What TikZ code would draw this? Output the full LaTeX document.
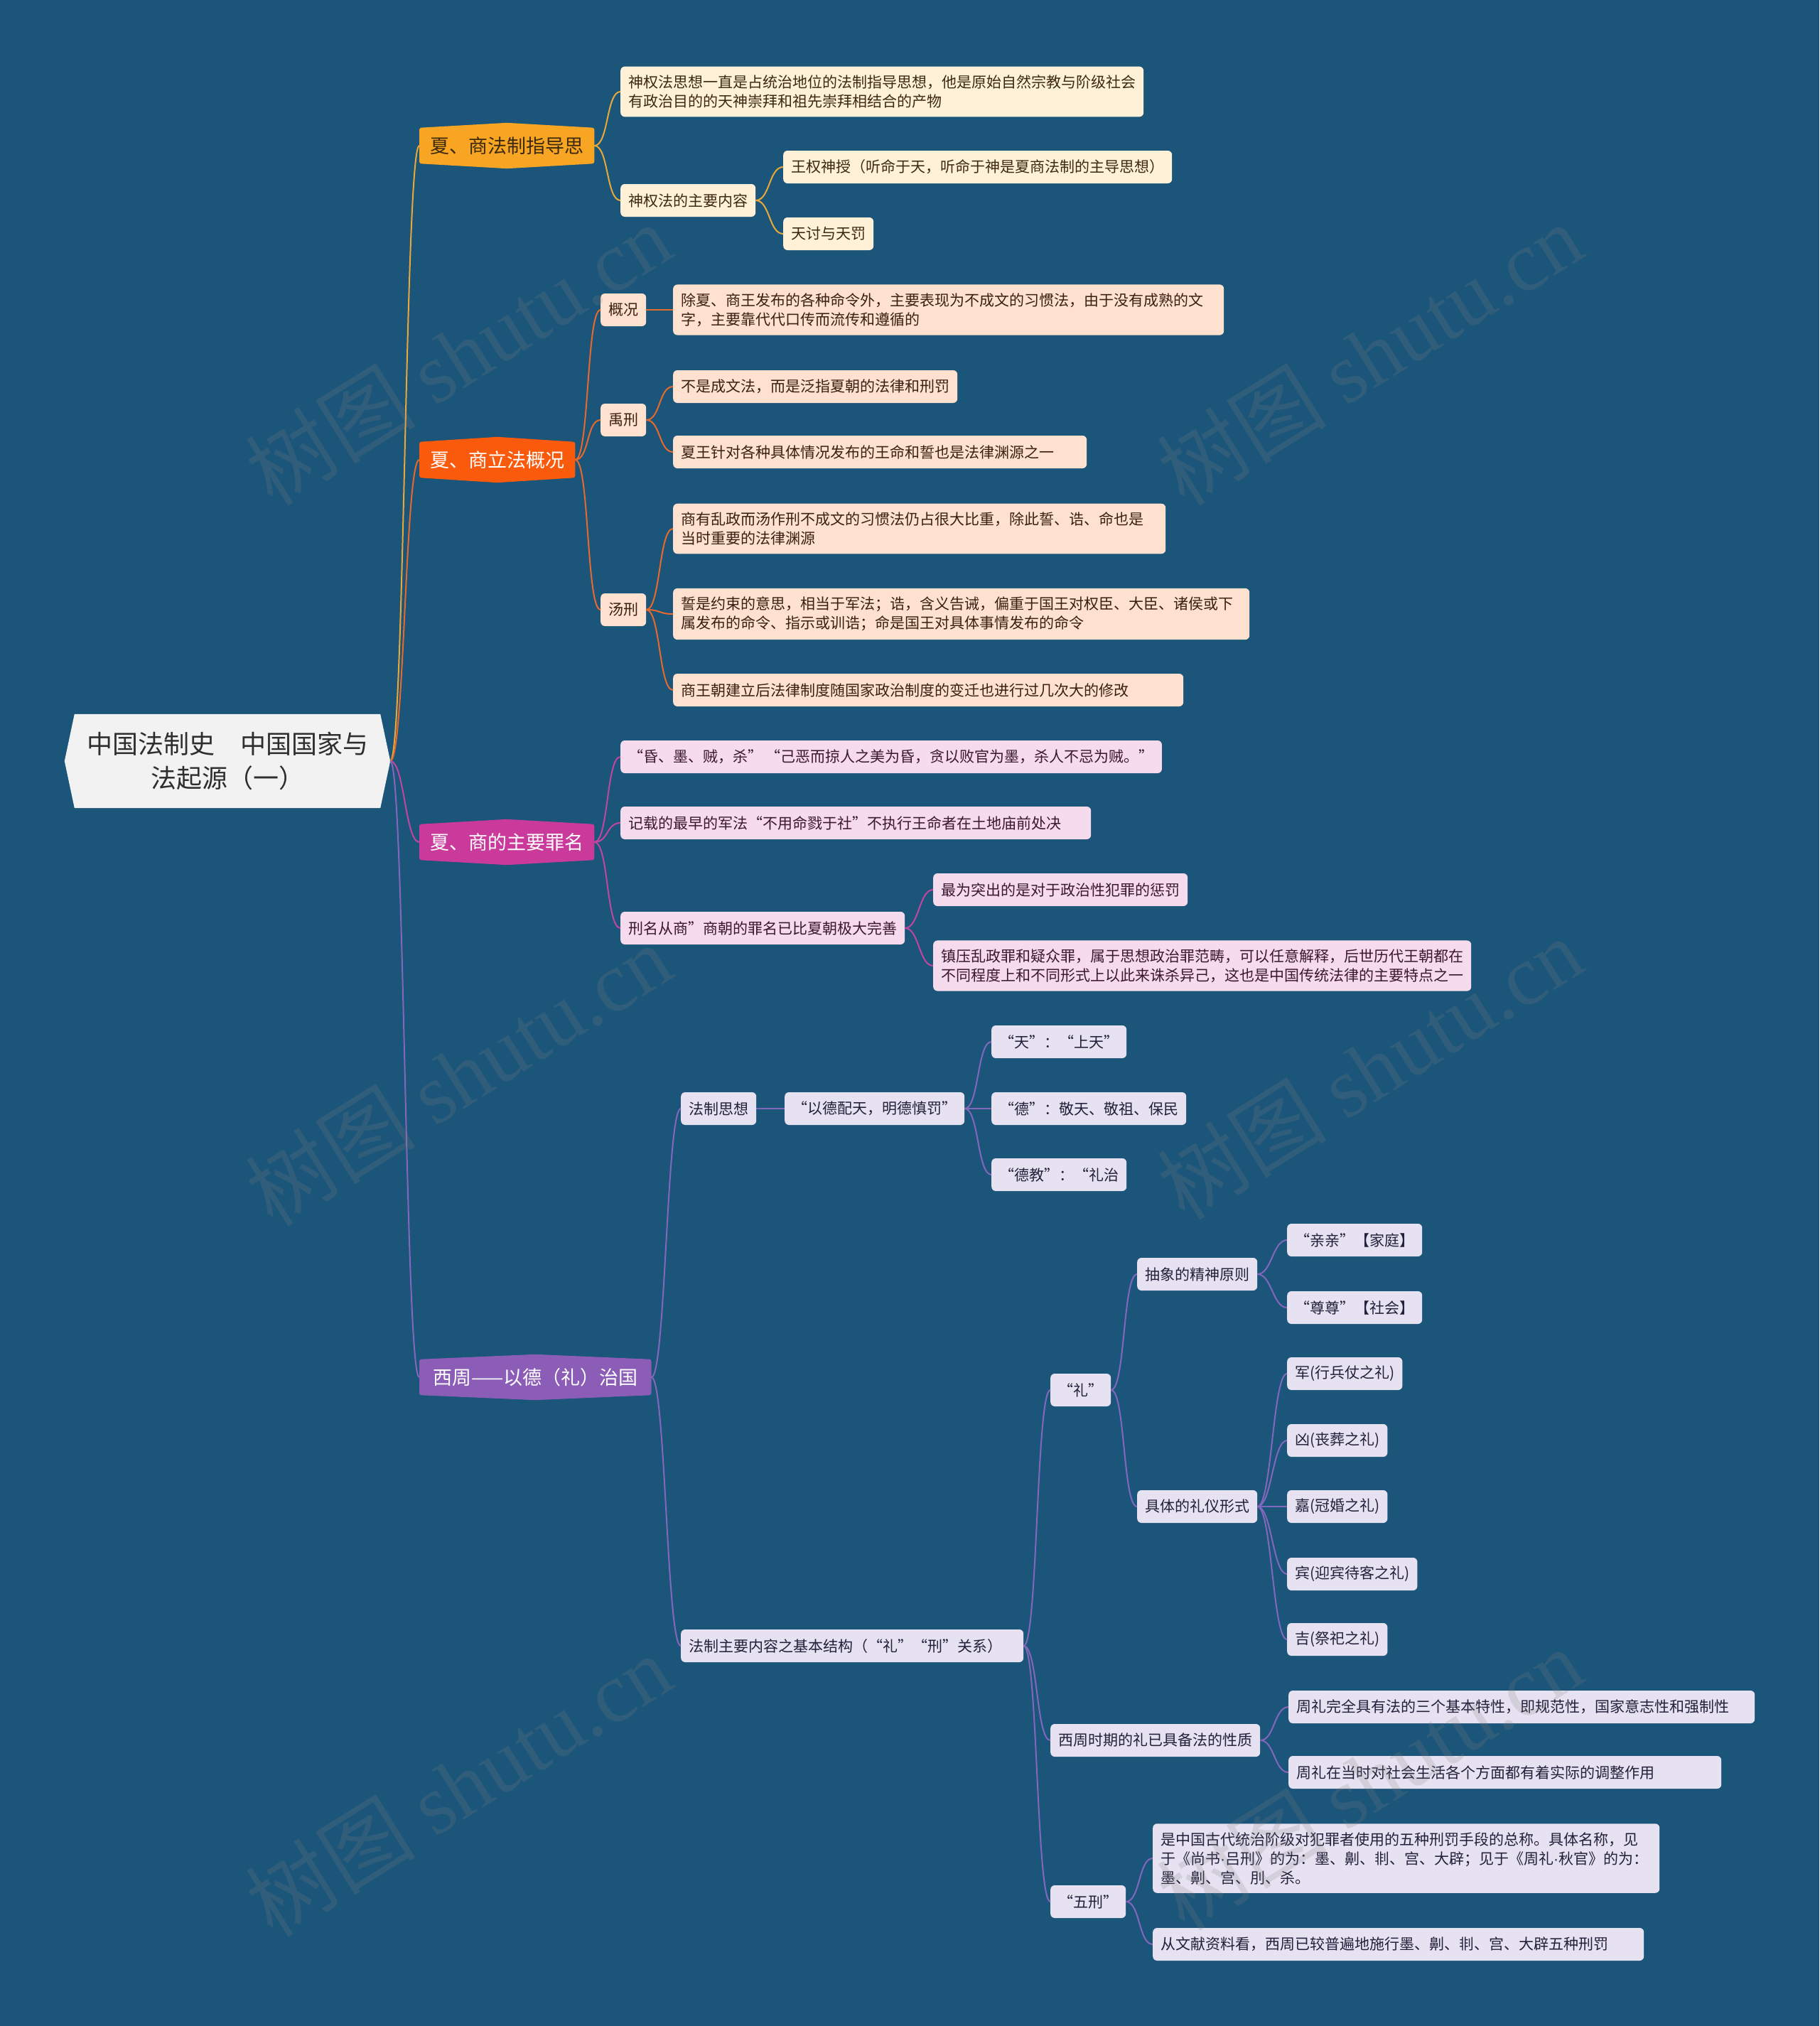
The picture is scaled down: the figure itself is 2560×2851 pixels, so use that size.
\documentclass[tikz,border=0pt]{standalone}
\usepackage{fontspec}
\setmainfont{Noto Sans CJK SC}
\newfontfamily\wmserif{Liberation Serif}
\newfontfamily\latinsans{Liberation Sans}
\usetikzlibrary{backgrounds}
\definecolor{SheetBlue}{HTML}{1B5579}
\definecolor{RootGray}{HTML}{F2F2F2}
\definecolor{RootInk}{HTML}{2E2E2E}
\definecolor{GuideOrange}{HTML}{F7A522}
\definecolor{GuideLine}{HTML}{E9A93A}
\definecolor{GuideCream}{HTML}{FFF1D8}
\definecolor{GuideInk}{HTML}{3B2A10}
\definecolor{LawRed}{HTML}{FA5A0C}
\definecolor{LawLine}{HTML}{E8692C}
\definecolor{LawPeach}{HTML}{FFE1CF}
\definecolor{LawInk}{HTML}{3A2012}
\definecolor{CrimeMagenta}{HTML}{C93A9B}
\definecolor{CrimeLine}{HTML}{C146A2}
\definecolor{CrimePink}{HTML}{F6DBEC}
\definecolor{CrimeInk}{HTML}{3A1830}
\definecolor{ZhouPurple}{HTML}{8B5DB7}
\definecolor{ZhouLine}{HTML}{8367BC}
\definecolor{ZhouLavender}{HTML}{E7E2F1}
\definecolor{ZhouInk}{HTML}{22203A}

\begin{document}
\begin{tikzpicture}[x=1pt, y=-1pt,
    leaf/.style={anchor=west, rounded corners=6pt, inner xsep=11pt, inner ysep=12pt,
      minimum height=46pt, align=left, font=\fontsize{21}{27}\selectfont},
    guideleaf/.style={leaf, fill=GuideCream, text=GuideInk},
    lawleaf/.style={leaf, fill=LawPeach, text=LawInk},
    crimeleaf/.style={leaf, fill=CrimePink, text=CrimeInk},
    zhouleaf/.style={leaf, fill=ZhouLavender, text=ZhouInk},
    hexlabel/.style={anchor=west, inner xsep=15pt, inner ysep=0pt, minimum height=50pt,
      font=\fontsize{27}{32}\selectfont},
    guidewire/.style={line width=2pt, GuideLine},
    lawwire/.style={line width=2pt, LawLine},
    crimewire/.style={line width=2pt, CrimeLine},
    zhouwire/.style={line width=2pt, ZhouLine},
    wmark/.style={rotate=32, text=gray, opacity=0.2, font=\fontsize{120}{120}\selectfont}]

  \begin{scope}[on background layer]
    \fill[SheetBlue] (0,0) rectangle (2560,2851);
  \end{scope}
  \useasboundingbox (0,0) rectangle (2560,2851);

  % centre topic
  \node[minimum width=430pt, minimum height=132pt, align=center, text=RootInk,
    font=\fontsize{36}{48}\selectfont] (root) at (320,1071)
    {中国法制史\quad 中国国家与\\法起源（一）};

  % main branches
  \node[hexlabel, text=GuideInk] (guide) at (590,205) {夏、商法制指导思};
  \node[hexlabel, text=white] (law) at (590,647) {夏、商立法概况};
  \node[hexlabel, text=white] (crime) at (590,1185) {夏、商的主要罪名};
  \node[hexlabel, text=white, inner xsep=19pt] (zhou) at (590,1938) {西周——以德（礼）治国};

  \begin{scope}[on background layer]
    \fill[RootGray] (root.north west) -- (root.north east) -- ([xshift=14pt]root.east)
      -- (root.south east) -- (root.south west) -- ([xshift=-14pt]root.west) -- cycle;
    \foreach \n/\c in {guide/GuideOrange, law/LawRed, crime/CrimeMagenta, zhou/ZhouPurple}
      \fill[\c, rounded corners=3pt] (\n.north west) -- ([yshift=7pt]\n.north) -- (\n.north east)
        -- (\n.south east) -- ([yshift=-7pt]\n.south) -- (\n.south west) -- cycle;
  \end{scope}

  \coordinate (hub) at ([xshift=14pt]root.east);
  \draw[guidewire] (hub) .. controls +(20,0) and +(-20,0) .. (guide.west);
  \draw[lawwire] (hub) .. controls +(20,0) and +(-20,0) .. (law.west);
  \draw[crimewire] (hub) .. controls +(20,0) and +(-20,0) .. (crime.west);
  \draw[zhouwire] (hub) .. controls +(20,0) and +(-20,0) .. (zhou.west);

  % guiding thought
  \node[guideleaf] (theo) at (873,129)
    {神权法思想一直是占统治地位的法制指导思想，他是原始自然宗教与阶级社会\\有政治目的的天神崇拜和祖先崇拜相结合的产物};
  \node[guideleaf] (theomain) at (873,282) {神权法的主要内容};
  \node[guideleaf] (mandate) at (1102,235) {王权神授（听命于天，听命于神是夏商法制的主导思想）};
  \node[guideleaf] (punish) at (1102,329) {天讨与天罚};

  \foreach \c in {theo, theomain}
    \draw[guidewire] (guide.east) .. controls +(20,0) and +(-20,0) .. (\c.west);
  \foreach \c in {mandate, punish}
    \draw[guidewire] (theomain.east) .. controls +(20,0) and +(-20,0) .. (\c.west);

  % legislation
  \node[lawleaf] (overview) at (845,436) {概况};
  \node[lawleaf, text width=753pt] (custom) at (947,436)
    {除夏、商王发布的各种命令外，主要表现为不成文的习惯法，由于没有成熟的文\\字，主要靠代代口传而流传和遵循的};
  \node[lawleaf] (yu) at (845,591) {禹刑};
  \node[lawleaf] (yuA) at (947,544) {不是成文法，而是泛指夏朝的法律和刑罚};
  \node[lawleaf, text width=560pt] (yuB) at (947,636) {夏王针对各种具体情况发布的王命和誓也是法律渊源之一};
  \node[lawleaf] (tang) at (845,858) {汤刑};
  \node[lawleaf, text width=671pt] (tangA) at (947,744)
    {商有乱政而汤作刑不成文的习惯法仍占很大比重，除此誓、诰、命也是\\当时重要的法律渊源};
  \node[lawleaf, text width=789pt] (tangB) at (947,864)
    {誓是约束的意思，相当于军法；诰，含义告诫，偏重于国王对权臣、大臣、诸侯或下\\属发布的命令、指示或训诰；命是国王对具体事情发布的命令};
  \node[lawleaf, text width=696pt] (tangC) at (947,971) {商王朝建立后法律制度随国家政治制度的变迁也进行过几次大的修改};

  \foreach \c in {overview, yu, tang}
    \draw[lawwire] (law.east) .. controls +(20,0) and +(-20,0) .. (\c.west);
  \draw[lawwire] (overview) -- (custom);
  \foreach \c in {yuA, yuB}
    \draw[lawwire] (yu.east) .. controls +(20,0) and +(-20,0) .. (\c.west);
  \foreach \c in {tangA, tangB, tangC}
    \draw[lawwire] (tang.east) .. controls +(20,0) and +(-20,0) .. (\c.west);

  % crimes
  \node[crimeleaf] (hunmo) at (873,1065)
    {“昏、墨、贼，杀”\ “己恶而掠人之美为昏，贪以败官为墨，杀人不忌为贼。”};
  \node[crimeleaf, text width=640pt] (army) at (873,1158) {记载的最早的军法“不用命戮于社”不执行王命者在土地庙前处决};
  \node[crimeleaf] (shang) at (873,1306) {刑名从商”商朝的罪名已比夏朝极大完善};
  \node[crimeleaf] (politic) at (1313,1252) {最为突出的是对于政治性犯罪的惩罚};
  \node[crimeleaf] (suppress) at (1313,1359)
    {镇压乱政罪和疑众罪，属于思想政治罪范畴，可以任意解释，后世历代王朝都在\\不同程度上和不同形式上以此来诛杀异己，这也是中国传统法律的主要特点之一};

  \foreach \c in {hunmo, army, shang}
    \draw[crimewire] (crime.east) .. controls +(20,0) and +(-20,0) .. (\c.west);
  \foreach \c in {politic, suppress}
    \draw[crimewire] (shang.east) .. controls +(20,0) and +(-20,0) .. (\c.west);

  % western zhou
  \node[zhouleaf] (idea) at (958,1560) {法制思想};
  \node[zhouleaf] (virtue) at (1104,1560) {“以德配天，明德慎罚”};
  \node[zhouleaf] (heaven) at (1395,1466) {“天”：“上天”};
  \node[zhouleaf] (de) at (1395,1560) {“德”：敬天、敬祖、保民};
  \node[zhouleaf] (dejiao) at (1395,1653) {“德教”：“礼治};

  \node[zhouleaf, text width=460pt] (frame) at (958,2316) {法制主要内容之基本结构（“礼”“刑”关系）};
  \node[zhouleaf] (li) at (1478,1956) {“礼”};
  \node[zhouleaf] (spirit) at (1600,1793) {抽象的精神原则};
  \node[zhouleaf] (qin) at (1811,1745) {“亲亲”【家庭】};
  \node[zhouleaf] (zun) at (1811,1840) {“尊尊”【社会】};
  \node[zhouleaf] (rite) at (1600,2120) {具体的礼仪形式};
  \node[zhouleaf] (jun) at (1811,1933) {军(行兵仗之礼)};
  \node[zhouleaf] (xiong) at (1811,2027) {凶(丧葬之礼)};
  \node[zhouleaf] (jia) at (1811,2120) {嘉(冠婚之礼)};
  \node[zhouleaf] (bin) at (1811,2215) {宾(迎宾待客之礼)};
  \node[zhouleaf] (ji) at (1811,2307) {吉(祭祀之礼)};
  \node[zhouleaf] (legal) at (1478,2449) {西周时期的礼已具备法的性质};
  \node[zhouleaf, text width=634pt] (three) at (1813,2402) {周礼完全具有法的三个基本特性，即规范性，国家意志性和强制性};
  \node[zhouleaf, text width=587pt] (adjust) at (1813,2494) {周礼在当时对社会生活各个方面都有着实际的调整作用};
  \node[zhouleaf] (wuxing) at (1478,2676) {“五刑”};
  \node[zhouleaf, text width=691pt] (wuA) at (1622,2615)
    {是中国古代统治阶级对犯罪者使用的五种刑罚手段的总称。具体名称，见\\于《尚书{\latinsans ·}吕刑》的为：墨、劓、剕、宫、大辟；见于《周礼{\latinsans ·}秋官》的为：\\墨、劓、宫、刖、杀。};
  \node[zhouleaf, text width=669pt] (wuB) at (1622,2736) {从文献资料看，西周已较普遍地施行墨、劓、剕、宫、大辟五种刑罚};

  \foreach \c in {idea, frame}
    \draw[zhouwire] (zhou.east) .. controls +(20,0) and +(-20,0) .. (\c.west);
  \draw[zhouwire] (idea) -- (virtue);
  \foreach \c in {heaven, de, dejiao}
    \draw[zhouwire] (virtue.east) .. controls +(20,0) and +(-20,0) .. (\c.west);
  \foreach \c in {li, legal, wuxing}
    \draw[zhouwire] (frame.east) .. controls +(20,0) and +(-20,0) .. (\c.west);
  \foreach \c in {spirit, rite}
    \draw[zhouwire] (li.east) .. controls +(20,0) and +(-20,0) .. (\c.west);
  \foreach \c in {qin, zun}
    \draw[zhouwire] (spirit.east) .. controls +(20,0) and +(-20,0) .. (\c.west);
  \foreach \c in {jun, xiong, jia, bin, ji}
    \draw[zhouwire] (rite.east) .. controls +(20,0) and +(-20,0) .. (\c.west);
  \foreach \c in {three, adjust}
    \draw[zhouwire] (legal.east) .. controls +(20,0) and +(-20,0) .. (\c.west);
  \foreach \c in {wuA, wuB}
    \draw[zhouwire] (wuxing.east) .. controls +(20,0) and +(-20,0) .. (\c.west);

  % watermark
  \foreach \x/\y [count=\i] in {645/498, 1927/498, 645/1512, 1927/1503, 645/2512, 1927/2503}
    \node[wmark] (wm\i) at (\x,\y) {树图 {\wmserif shutu.cn}};
\end{tikzpicture}
\end{document}
